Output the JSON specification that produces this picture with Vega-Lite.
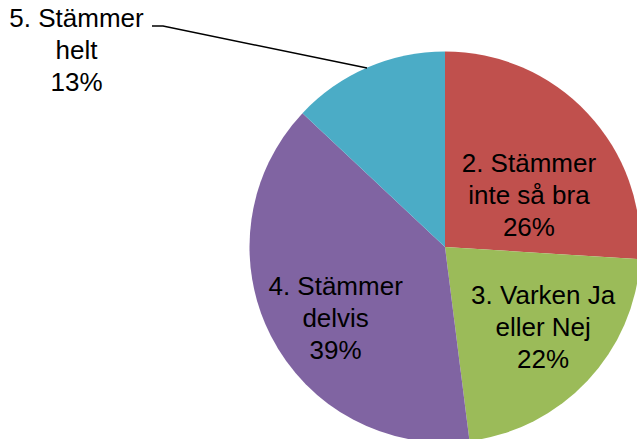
{
  "$schema": "https://vega.github.io/schema/vega-lite/v6.json",
  "width": 384,
  "height": 384,
  "autosize": {"type": "none"},
  "padding": {"left": 253, "top": 55, "right": 0, "bottom": 0},
  "background": "white",
  "config": {"view": {"stroke": null}},
  "data": {
    "values": [
      {"category": "2. Stämmer inte så bra", "value": 26, "label": "2. Stämmer\ninte så bra\n26%"},
      {"category": "3. Varken Ja eller Nej", "value": 22, "label": "3. Varken Ja\neller Nej\n22%"},
      {"category": "4. Stämmer delvis", "value": 39, "label": "4. Stämmer\ndelvis\n39%"},
      {"category": "5. Stämmer helt", "value": 13, "label": "5. Stämmer\nhelt\n13%"}
    ]
  },
  "layer": [
    {
      "mark": {"type": "arc", "outerRadius": 195.5},
      "encoding": {
        "theta": {"field": "value", "type": "quantitative", "stack": true},
        "order": {"field": "category", "type": "ordinal"},
        "color": {
          "field": "category",
          "type": "nominal",
          "scale": {"domain": ["2. Stämmer inte så bra", "3. Varken Ja eller Nej", "4. Stämmer delvis", "5. Stämmer helt"], "range": ["#C0504D", "#9BBB59", "#8064A2", "#4BACC6"]},
          "legend": null
        }
      }
    },
    {
      "mark": {"type": "text", "radius": 100, "dx": 11, "dy": -15, "font": "Liberation Sans", "fontSize": 26, "lineBreak": "\n", "lineHeight": 32, "align": "center", "baseline": "middle", "color": "black"},
      "encoding": {
        "theta": {"field": "value", "type": "quantitative", "stack": true},
        "order": {"field": "category", "type": "ordinal"},
        "text": {"condition": {"test": "datum.category === '2. Stämmer inte så bra'", "field": "label"}, "value": ""}
      }
    },
    {
      "mark": {"type": "text", "radius": 125, "dx": 7, "dy": -37, "font": "Liberation Sans", "fontSize": 26, "lineBreak": "\n", "lineHeight": 32, "align": "center", "baseline": "middle", "color": "black"},
      "encoding": {
        "theta": {"field": "value", "type": "quantitative", "stack": true},
        "order": {"field": "category", "type": "ordinal"},
        "text": {"condition": {"test": "datum.category === '3. Varken Ja eller Nej'", "field": "label"}, "value": ""}
      }
    },
    {
      "mark": {"type": "text", "radius": 125, "dx": 2, "dy": -17, "font": "Liberation Sans", "fontSize": 26, "lineBreak": "\n", "lineHeight": 32, "align": "center", "baseline": "middle", "color": "black"},
      "encoding": {
        "theta": {"field": "value", "type": "quantitative", "stack": true},
        "order": {"field": "category", "type": "ordinal"},
        "text": {"condition": {"test": "datum.category === '4. Stämmer delvis'", "field": "label"}, "value": ""}
      }
    },
    {
      "mark": {"type": "text", "radius": 195, "dx": -291, "dy": -49, "font": "Liberation Sans", "fontSize": 26, "lineBreak": "\n", "lineHeight": 32, "align": "center", "baseline": "middle", "color": "black"},
      "encoding": {
        "theta": {"field": "value", "type": "quantitative", "stack": true},
        "order": {"field": "category", "type": "ordinal"},
        "text": {"condition": {"test": "datum.category === '5. Stämmer helt'", "field": "label"}, "value": ""}
      }
    },
    {
      "data": {"values": [
        {"px": -293, "py": 221},
        {"px": -282, "py": 221},
        {"px": -78, "py": 179}
      ]},
      "mark": {"type": "line", "color": "black", "strokeWidth": 1.5, "clip": false},
      "encoding": {
        "x": {"field": "px", "type": "quantitative", "scale": {"domain": [-192, 192], "nice": false, "zero": false}, "axis": null},
        "y": {"field": "py", "type": "quantitative", "scale": {"domain": [-192, 192], "nice": false, "zero": false}, "axis": null}
      }
    }
  ]
}
